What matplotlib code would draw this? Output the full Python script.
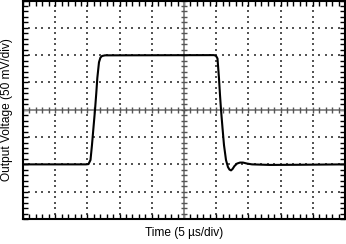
import numpy as np
import matplotlib
matplotlib.use("Agg")
import matplotlib.pyplot as plt

plt.rcParams['font.family'] = ['Liberation Sans', 'DejaVu Sans']

# Scope trace, time in us (5 us/div), voltage in mV (50 mV/div)
t_us = [0, 9.78, 10.17, 10.48, 10.71, 10.95, 11.18, 11.38, 11.54, 11.8, 12.03,
        12.27, 12.73, 29.66, 29.97, 30.2, 30.43, 30.59, 30.75, 30.98, 31.21,
        31.52, 31.83, 32.06, 32.3, 32.53, 32.84, 33.23, 33.7, 34.16, 34.78,
        35.56, 38.35, 43.0, 50.0]
v_mv = [-100, -100, -99.5, -92, -64.7, -31.7, -0.5, 30.6, 58, 87, 95.6,
        98.4, 99.6, 100, 98.7, 93.8, 58, 27, -0.5, -33.5, -64.7,
        -92, -105, -109.5, -111, -108.6, -103, -98.5, -96.7, -96.7, -98.5,
        -100, -101, -100.7, -100]

x_div, y_div = 5, 50          # units per division
n_x, n_y = 10, 8

fig = plt.figure(figsize=(3.46, 2.44), dpi=100)
ax = fig.add_axes([23/346, 25/244, 322/346, 218.5/244])
ax.set_xlim(0, n_x * x_div)
ax.set_ylim(-n_y / 2 * y_div, n_y / 2 * y_div)

# dotted graticule (dots at minor steps)
xs_minor = np.arange(0, n_x * x_div + 0.01, x_div / 5)
ys_minor = np.arange(-n_y / 2 * y_div, n_y / 2 * y_div + 0.01, y_div / 5)
for gx in np.arange(x_div, n_x * x_div, x_div):
    if gx == n_x * x_div / 2:
        continue
    ax.scatter(np.full_like(ys_minor, gx), ys_minor, s=0.9, marker='s',
               color='#555555', linewidths=0, zorder=1)
for gy in np.arange(-n_y / 2 * y_div + y_div, n_y / 2 * y_div, y_div):
    if gy == 0:
        continue
    ax.scatter(xs_minor, np.full_like(xs_minor, gy), s=0.9, marker='s',
               color='#555555', linewidths=0, zorder=1)

# center cross with tick marks
xc = n_x * x_div / 2
ax.axhline(0, color='#8c8c8c', lw=1.4, zorder=2)
ax.axvline(xc, color='#8c8c8c', lw=1.4, zorder=2)
ax.plot(xs_minor, np.zeros_like(xs_minor), ls='none', marker='|', ms=4.5,
        mew=1.0, color='#555555', zorder=2)
ax.plot(np.full_like(ys_minor, xc), ys_minor, ls='none', marker='_', ms=4.5,
        mew=1.0, color='#555555', zorder=2)

ax.plot(t_us, v_mv, color='black', lw=1.5, zorder=5, solid_joinstyle='round')

ax.set_xticks(xs_minor)
ax.set_yticks(ys_minor)
ax.tick_params(which='both', direction='in', length=3.5, width=1,
               top=True, right=True, labelbottom=False, labelleft=False)
for s in ax.spines.values():
    s.set_linewidth(1.5)

fig.text(184/346, 1 - 233/244, 'Time (5 µs/div)', ha='center', va='center',
         fontsize=8.6)
fig.text(7.5/346, 1 - 110/244, 'Output Voltage (50 mV/div)', ha='center',
         va='center', rotation=90, fontsize=8.6)

fig.savefig('out.png', dpi=100)
